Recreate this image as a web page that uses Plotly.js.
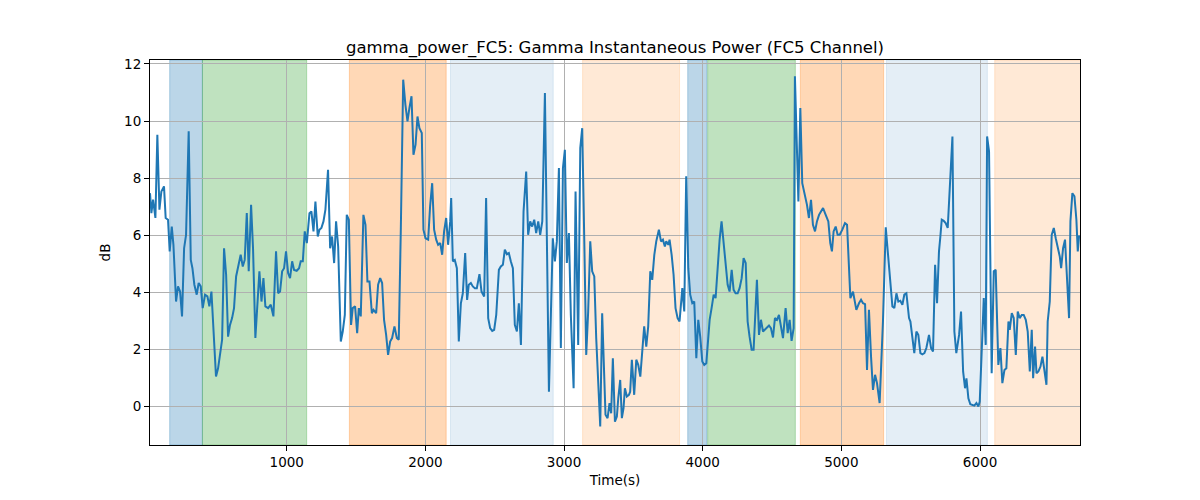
<!DOCTYPE html>
<html>
<head>
<meta charset="utf-8">
<script src="https://cdn.plot.ly/plotly-3.0.1.min.js"></script>
<style>
  html, body { margin: 0; padding: 0; background: #fff; }
  #grafica { width: 1200px; height: 500px; }
</style>
</head>
<body>
<div id="grafica"></div>
<script>
// Potencia gamma instantánea, canal FC5

let tiempo = [
  14,24,36,53,67,82,96,115,127,144,156,171,183,202,216,231,245,260,274,293,
  308,320,334,351,365,380,394,411,428,442,457,476,490,505,519,534,548,563,577,591,
  606,620,635,649,668,683,697,712,726,743,757,774,789,803,818,832,846,866,885,904,
  923,938,952,967,981,995,1010,1024,1039,1053,1072,1089,1101,1116,1130,1145,
  1164,1178,1193,1207,1224,1236,1250,1265,1279,1298,1313,1327,1342,1356,1371,1380,1390,1404,1419,1433,
  1448,1464,1476,1493,1508,1520,1534,1553,1568,1582,1597,1614,1626,1645,1659,1674,1688,1702,1717,1731,
  1746,1760,1777,1794,1808,1823,1840,1856,1871,1885,1900,1914,1929,1943,1957,1974,1986,2001,2020,2034,
  2049,2063,2078,2092,2107,2121,2135,2150,2164,2179,2186,2198,2212,2227,2241,
  2256,2270,2287,2301,2313,2328,2342,2357,2371,2390,2405,2424,2438,2453,2467,2482,2496,2511,2530,2544,
  2559,2573,2588,2602,2616,2631,2645,2660,2674,2689,2708,2727,2741,2756,2770,2785,2799,2814,2828,2843,
  2862,2876,2891,2905,2919,2934,2948,2963,2977,2992,3006,3020,3035,3049,3069,3083,3102,3117,3131,3146,
  3160,3174,3189,3203,3218,3232,3247,3261,3275,3290,3299,3314,3328,
  3340,3352,3367,3381,3391,3405,3417,3429,3439,3453,3468,3477,3489,3506,3521,3535,3550,3564,3578,3593,
  3607,3622,3636,3651,3665,3684,3699,3713,3727,3737,3752,3761,3776,3790,3804,3819,3833,3853,3867,3881,
  3896,3910,3925,3939,3954,3968,3982,3997,4011,4026,4040,4050,4064,4079,4093,4108,4122,4136,4151,4165,
  4180,4194,4209,4223,4237,4252,4266,4281,4295,4310,4324,4338,4353,4367,4382,4391,4406,
  4420,4435,4449,4463,4478,4492,4507,4521,4536,4550,4564,4579,4598,4613,4627,4641,4656,4665,4690,4704,
  4718,4738,4752,4766,4781,4795,4810,4824,4839,4853,4868,4882,4896,4906,4920,4932,4944,4959,4973,4988,
  5007,5026,5041,5065,5084,5108,5127,5142,5156,5171,5185,5199,5214,5228,5243,5257,5276,5300,5320,5344,
  5368,5382,5397,5411,5425,5440,5454,5469,5488,
  5498,5512,5526,5541,5555,5570,5584,5599,5613,5632,5647,5661,5676,5690,5704,5714,5724,5738,5752,5767,
  5781,5801,5815,5829,5849,5863,5878,5892,5902,5916,5930,5945,5959,5974,5988,5998,6012,6027,6041,6051,
  6065,6084,6099,6113,6132,6147,6161,6176,6190,6205,6214,6229,6243,6258,6272,6286,6301,6315,6330,6344,
  6359,6373,6383,6397,6407,6421,6436,6450,6464,6479,6488,6503,6517,6532,6546,6561,6575,6585,6599,6613,
  6628,6642,6652,6666,6681,6695,6705,6714,6721
];

let potencia_db = [
  7.47,6.77,7.24,6.60,9.52,6.89,7.53,7.71,6.60,6.54,5.43,6.30,5.66,3.67,4.20,4.02,3.15,5.54,6.01,9.64,
  5.13,4.84,4.26,3.91,4.32,4.20,3.44,3.91,3.85,3.50,4.02,2.15,1.04,1.33,1.74,2.33,5.54,4.61,2.44,2.85,
  3.09,3.44,4.55,4.84,5.31,4.90,5.13,6.77,4.73,7.06,5.54,2.39,3.56,4.73,3.67,4.49,3.50,3.44,3.56,3.15,
  5.43,3.96,4.02,4.73,4.84,5.43,4.67,4.49,5.08,4.78,4.75,4.84,5.08,5.08,6.13,5.72,
  6.77,6.83,6.13,7.18,5.95,6.19,6.25,6.48,6.89,8.29,5.54,5.95,5.02,6.48,5.60,4.14,2.27,2.62,3.20,6.71,
  6.54,2.85,3.44,3.50,2.56,3.44,3.15,6.71,6.36,4.37,4.37,3.26,3.38,3.26,4.26,4.49,4.32,3.03,2.50,1.80,
  2.27,2.39,2.80,2.39,2.33,6.25,11.45,10.57,9.99,10.46,10.87,8.82,9.17,10.16,9.75,9.58,6.19,5.89,5.84,7.01,
  7.82,6.19,5.84,5.66,5.72,5.31,6.13,6.60,5.66,6.48,7.30,5.08,5.13,4.84,2.27,
  3.61,3.96,5.37,3.73,4.26,4.32,4.20,4.14,4.14,4.63,4.02,3.85,7.30,3.09,2.74,2.64,2.68,3.20,4.78,4.90,
  4.96,5.49,5.33,5.37,5.08,4.84,2.85,2.62,3.61,2.15,6.83,8.23,6.01,6.48,6.30,6.54,6.07,6.48,6.01,6.48,
  10.98,6.48,0.51,3.20,5.89,5.08,5.78,8.35,2.04,8.35,8.99,5.02,6.07,3.20,0.63,7.53,2.15,9.05,9.75,5.78,
  1.80,3.32,5.78,4.73,4.55,2.39,0.51,-0.71,3.26,1.10,-0.30,-0.42,0.11,
  -0.25,1.68,-0.54,-0.36,0.28,0.92,-0.42,-0.07,0.63,0.34,0.40,0.51,1.63,0.40,1.63,1.45,1.04,1.80,2.80,2.09,
  2.80,4.73,4.43,5.31,5.78,6.19,5.78,5.84,5.60,5.78,5.66,5.84,5.31,4.61,3.44,3.09,2.97,4.14,3.32,8.06,
  4.84,3.91,3.61,3.67,1.68,3.03,2.44,1.57,1.45,1.51,2.33,3.03,3.44,3.91,3.79,4.90,5.84,6.48,5.72,5.19,
  4.26,4.02,4.78,4.08,3.96,3.96,4.14,4.49,5.19,5.02,2.97,2.44,1.98,1.98,3.50,4.43,2.50,
  3.03,2.62,2.68,2.74,2.83,2.74,2.41,3.09,3.03,3.20,2.74,2.39,3.44,2.56,3.03,2.29,2.74,11.57,7.18,10.46,
  7.82,7.42,7.06,6.60,7.24,6.36,6.13,6.48,6.71,6.83,6.95,6.77,6.60,6.48,5.72,5.43,6.13,6.30,6.01,6.01,
  6.19,6.42,6.36,3.79,4.02,3.38,3.61,3.73,3.61,3.58,1.27,3.38,1.74,0.57,1.10,0.81,0.11,2.97,6.27,4.84,
  3.50,3.44,3.96,3.67,3.70,3.56,3.91,3.96,3.09,
  2.97,2.33,1.86,2.62,2.50,1.86,1.82,1.86,2.04,2.50,2.04,1.92,4.96,3.61,5.43,5.95,6.54,6.50,6.42,6.25,
  7.42,9.46,2.62,1.86,2.50,3.32,1.22,0.63,0.98,0.28,0.07,0.05,0.02,0.11,-0.01,0.16,2.04,3.79,2.15,9.46,
  8.94,1.16,4.73,4.78,1.45,2.04,0.81,1.27,1.33,2.97,2.68,3.26,3.09,1.80,3.32,3.09,3.20,3.20,3.03,2.62,
  1.22,2.68,0.98,2.09,1.16,1.22,1.39,1.74,1.27,0.75,2.97,3.67,6.01,6.25,5.89,5.54,5.25,4.84,5.54,5.84,
  4.49,3.09,6.48,7.47,7.36,6.54,5.43,5.95,5.95
];

// Intervalos sombreados (inicio, fin, tipo de fase)
let fase_inicio = [156, 392, 1452, 2181, 3134, 3892, 4036, 4704, 5325, 6106];
let fase_fin    = [392, 1144, 2150, 2922, 3833, 4031, 4668, 5305, 6053, 6800];
let fase_tipo   = ['azul', 'verde', 'naranja', 'azul_claro', 'naranja_claro',
                   'azul', 'verde', 'naranja', 'azul_claro', 'naranja_claro'];

// Colores de las fases
let colores_fase = {
  azul: 'rgba(31,119,180,0.3)',
  verde: 'rgba(44,160,44,0.3)',
  naranja: 'rgba(255,127,14,0.3)',
  azul_claro: 'rgba(31,119,180,0.12)',
  naranja_claro: 'rgba(255,127,14,0.17)'
};

let sombras = fase_inicio.map(function (x0, i) {
  let c = colores_fase[fase_tipo[i]];
  return {
    type: 'rect', xref: 'x', yref: 'paper',
    x0: x0, x1: fase_fin[i], y0: 0, y1: 1,
    fillcolor: c,
    line: { color: c, width: 1 },
    layer: 'below'
  };
});

let traza = [{
  x: tiempo,
  y: potencia_db,
  type: 'scatter',
  mode: 'lines',
  line: { color: '#1f77b4', width: 2 },
  hoverinfo: 'x+y'
}];

let fuente = { family: 'DejaVu Sans, sans-serif', size: 13.5, color: '#000' };

let layout = {
  width: 1200,
  height: 500,
  paper_bgcolor: '#fff',
  plot_bgcolor: 'rgba(0,0,0,0)',
  showlegend: false,
  font: fuente,
  margin: { l: 150, r: 120, t: 60, b: 55, pad: 0 },
  title: {
    text: 'gamma_power_FC5: Gamma Instantaneous Power (FC5 Channel)',
    font: { family: 'DejaVu Sans, sans-serif', size: 16.5, color: '#000' },
    x: 0.5, xref: 'paper', xanchor: 'center',
    y: 1, yref: 'paper', yanchor: 'bottom',
    pad: { b: 7 }
  },
  xaxis: {
    range: [14, 6721],
    tickvals: [1000, 2000, 3000, 4000, 5000, 6000],
    ticks: 'outside', ticklen: 5, tickwidth: 1, tickcolor: '#000',
    showgrid: true, gridcolor: '#b0b0b0', gridwidth: 1,
    zeroline: false,
    showline: true, linecolor: '#000', linewidth: 1, mirror: true,
    tickfont: fuente,
    title: { text: 'Time(s)', font: fuente, standoff: 6 },
    automargin: false
  },
  yaxis: {
    range: [-1.36, 12.14],
    tickvals: [0, 2, 4, 6, 8, 10, 12],
    ticks: 'outside', ticklen: 5, tickwidth: 1, tickcolor: '#000',
    showgrid: true, gridcolor: '#b0b0b0', gridwidth: 1,
    zeroline: false,
    showline: true, linecolor: '#000', linewidth: 1, mirror: true,
    tickfont: fuente,
    title: { text: 'dB', font: fuente, standoff: 10 },
    automargin: false
  },
  shapes: sombras
};

Plotly.newPlot('grafica', traza, layout, { displayModeBar: false, staticPlot: true });
</script>
</body>
</html>
